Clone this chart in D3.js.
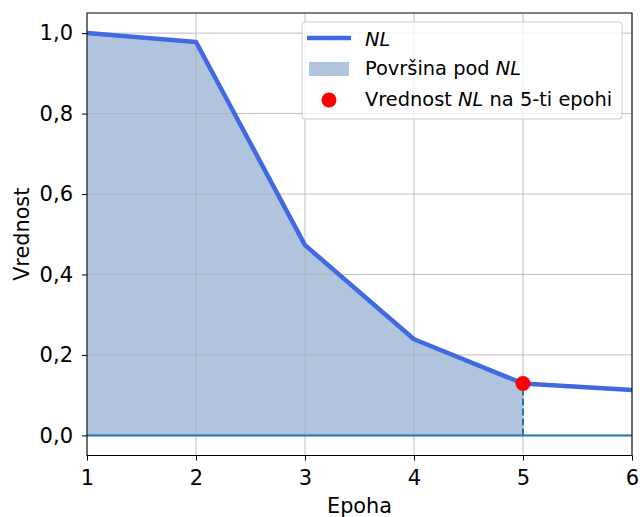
<!DOCTYPE html>
<html><head><meta charset="utf-8">
<script src="https://cdn.jsdelivr.net/npm/d3@7"></script>
<style>body{margin:0;background:#fff}svg{display:block;font-family:"DejaVu Sans",sans-serif}</style>
</head><body>
<svg id="c" width="640" height="517"></svg>
<script>
const epochs = [1, 2, 3, 4, 5, 6];
const values = [1.0, 0.978, 0.473, 0.239, 0.129, 0.113];
const xTicks = [1, 2, 3, 4, 5, 6];
const yTicks = [0.0, 0.2, 0.4, 0.6, 0.8, 1.0];
const markEpoch = 5;
const legendLabels = ["NL", "Površina pod NL", "Vrednost NL na 5-ti epohi"];

const svg = d3.select("#c");
const m = {l: 87, r: 632, t: 13, b: 455.5};
const x = d3.scaleLinear().domain([1, 6]).range([m.l, m.r]);
const y = d3.scaleLinear().domain([-0.05, 1.05]).range([m.b, m.t]);
const fmt = d => d3.format(".1f")(d).replace(".", ",");

const data = epochs.map((e, i) => ({e, v: values[i]}));
const markV = values[epochs.indexOf(markEpoch)];

// fill area up to epoch 5
const areaData = data.filter(d => d.e <= markEpoch);
svg.append("path").datum(areaData)
  .attr("d", d3.area().x(d => x(d.e)).y0(y(0)).y1(d => y(d.v)))
  .attr("fill", "#B0C4DE");

// grid
const g = svg.append("g");
xTicks.forEach(t => g.append("line").attr("x1", x(t)).attr("x2", x(t)).attr("y1", m.t).attr("y2", m.b)
  .attr("stroke", "#b0b0b0").attr("stroke-width", 0.8));
yTicks.forEach(t => g.append("line").attr("x1", m.l).attr("x2", m.r).attr("y1", y(t)).attr("y2", y(t))
  .attr("stroke", "#b0b0b0").attr("stroke-width", 0.8));

// zero line
svg.append("line").attr("x1", m.l).attr("x2", m.r).attr("y1", y(0)).attr("y2", y(0))
  .attr("stroke", "#1f77b4").attr("stroke-width", 2);
// dashed vertical
svg.append("line").attr("x1", x(markEpoch)).attr("x2", x(markEpoch)).attr("y1", y(0)).attr("y2", y(markV))
  .attr("stroke", "#1f77b4").attr("stroke-width", 2).attr("stroke-dasharray", "7,3");

// line
svg.append("path").datum(data)
  .attr("d", d3.line().x(d => x(d.e)).y(d => y(d.v)))
  .attr("fill", "none").attr("stroke", "#4169E1").attr("stroke-width", 4.5).attr("stroke-linejoin", "round");

// point
svg.append("circle").attr("cx", x(markEpoch)).attr("cy", y(markV)).attr("r", 7.5).attr("fill", "red");

// axes
const xa = svg.append("g").attr("transform", `translate(0,${m.b})`)
  .call(d3.axisBottom(x).tickValues(xTicks).tickFormat(d3.format("d")).tickSize(5).tickPadding(9.5));
const ya = svg.append("g").attr("transform", `translate(${m.l},0)`)
  .call(d3.axisLeft(y).tickValues(yTicks).tickFormat(fmt).tickSize(5).tickPadding(9));
[xa, ya].forEach(a => {
  a.attr("font-size", null).attr("font-family", null);
  a.selectAll("text").style("font-size", "21px").attr("fill", "#000").style("font-family", "DejaVu Sans");
  a.selectAll("line").attr("stroke", "#000").attr("stroke-width", 1);
  a.select(".domain").remove();
});
// frame
svg.append("rect").attr("x", m.l).attr("y", m.t).attr("width", m.r - m.l).attr("height", m.b - m.t)
  .attr("fill", "none").attr("stroke", "#000").attr("stroke-width", 1);

svg.append("text").attr("x", (m.l + m.r) / 2).attr("y", 513).attr("text-anchor", "middle")
  .style("font-size", "20.8px").text("Epoha");
svg.append("text").attr("transform", `translate(29,${(m.t + m.b) / 2}) rotate(-90)`).attr("text-anchor", "middle")
  .style("font-size", "20.8px").text("Vrednost");

// legend
const L = svg.append("g");
L.append("rect").attr("x", 302).attr("y", 22).attr("width", 320).attr("height", 97).attr("rx", 3)
  .attr("fill", "rgba(255,255,255,0.8)").attr("stroke", "#cccccc").attr("stroke-width", 1);
L.append("line").attr("x1", 307).attr("x2", 351).attr("y1", 38).attr("y2", 38)
  .attr("stroke", "#4169E1").attr("stroke-width", 4.5);
L.append("rect").attr("x", 309).attr("y", 62).attr("width", 40).attr("height", 14).attr("fill", "#B0C4DE");
L.append("circle").attr("cx", 329).attr("cy", 100).attr("r", 7.5).attr("fill", "red");
const lt = (yy, parts) => {
  const t = L.append("text").attr("x", 365).attr("y", yy).style("font-size", "19.4px");
  parts.forEach(p => t.append("tspan").attr("font-style", p[1] ? "italic" : "normal").text(p[0]));
};
lt(46, [[legendLabels[0], true]]);
lt(74.5, [["Površina pod ", false], ["NL", true]]);
lt(105.5, [["Vrednost ", false], ["NL", true], [" na 5-ti epohi", false]]);
</script>
</body></html>
